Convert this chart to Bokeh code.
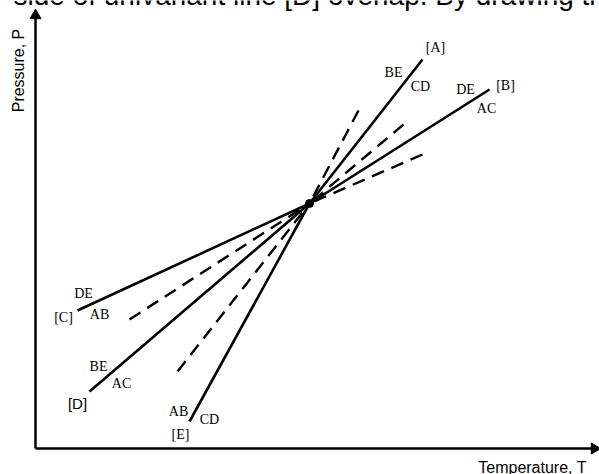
import math
from bokeh.plotting import figure
from bokeh.models import Range1d
from bokeh.core.properties import value
from bokeh.embed import file_html
from bokeh.resources import INLINE

# Invariant point (T, P) in arbitrary diagram units
inv_T = 274
inv_P = 245

# Univariant reactions: stable (solid) ends
reactions = ["[A]", "[B]", "[C]", "[D]", "[E]"]
stable_T = [387, 454, 42, 54, 154]
stable_P = [389, 359, 138, 57, 27]
# Metastable (dashed) extensions through the invariant point
meta_T = [142, 94, 387, 368, 323]
meta_P = [77, 129, 294, 324, 338]

# Phase labels beside the lines
phase_text = ["BE", "CD", "DE", "AC", "DE", "AB", "BE", "AC", "AB", "CD"]
phase_T = [358, 385, 430, 451, 48, 64, 63, 86, 143, 174]
phase_P = [376, 362, 359, 340, 155, 134, 82, 65, 37, 29]

# Reaction name labels
name_text = ["[A]", "[B]", "[C]", "[E]"]
name_T = [400, 470, 28, 145]
name_P = [401, 363, 131, 14]
nameD_text = ["[D]"]
nameD_T = [42]
nameD_P = [45]

T_max = 564
P_max = 438

p = figure(width=599, height=474, output_backend="svg", toolbar_location=None,
           x_range=Range1d(-35, 564), y_range=Range1d(-26, 448), min_border=0)
p.axis.visible = False
p.grid.visible = False
p.outline_line_color = None
p.background_fill_color = "white"
p.border_fill_color = "white"

# cropped caption text at top
p.text(x=[-22], y=[453], text=["side of univariant line [D] overlap. By drawing the"],
       text_font=value("Liberation Sans"), text_font_size="28px",
       text_baseline="middle", text_align="left", text_color="black")

# axes with arrow heads
p.segment(x0=[0, 0], y0=[0, 0], x1=[0, T_max - 4], y1=[P_max - 4, 0],
          line_color="black", line_width=2.5)
p.scatter(x=[0], y=[P_max - 5], marker="triangle", size=11, color="black")
p.scatter(x=[T_max - 5], y=[0], marker="triangle", size=11, angle=-math.pi / 2,
          color="black")

# solid stable segments
p.segment(x0=[inv_T] * 5, y0=[inv_P] * 5, x1=stable_T, y1=stable_P,
          line_color="black", line_width=2.6)
# dashed metastable segments (drawn from outer end inward)
p.segment(x0=meta_T, y0=meta_P, x1=[inv_T] * 5, y1=[inv_P] * 5,
          line_color="black", line_width=2.4, line_dash="13 8")

p.scatter(x=[inv_T], y=[inv_P], size=8, color="black")

p.text(x=phase_T, y=phase_P, text=phase_text, text_font=value("Liberation Serif"),
       text_font_size="14px", text_align="center", text_baseline="middle", text_color="black")
p.text(x=name_T, y=name_P, text=name_text, text_font=value("Liberation Serif"),
       text_font_size="14px", text_align="center", text_baseline="middle", text_color="black")
p.text(x=nameD_T, y=nameD_P, text=nameD_text, text_font=value("Liberation Sans"),
       text_font_size="15px", text_align="center", text_baseline="middle", text_color="black")

# axis titles
p.text(x=[-17], y=[378], text=["Pressure, P"], angle=math.pi / 2,
       text_font=value("Liberation Sans"), text_font_size="16px",
       text_align="center", text_baseline="middle", text_color="black")
p.text(x=[497], y=[-19], text=["Temperature, T"],
       text_font=value("Liberation Sans"), text_font_size="16px",
       text_align="center", text_baseline="middle", text_color="black")

open("out.html", "w").write(file_html(p, INLINE))
